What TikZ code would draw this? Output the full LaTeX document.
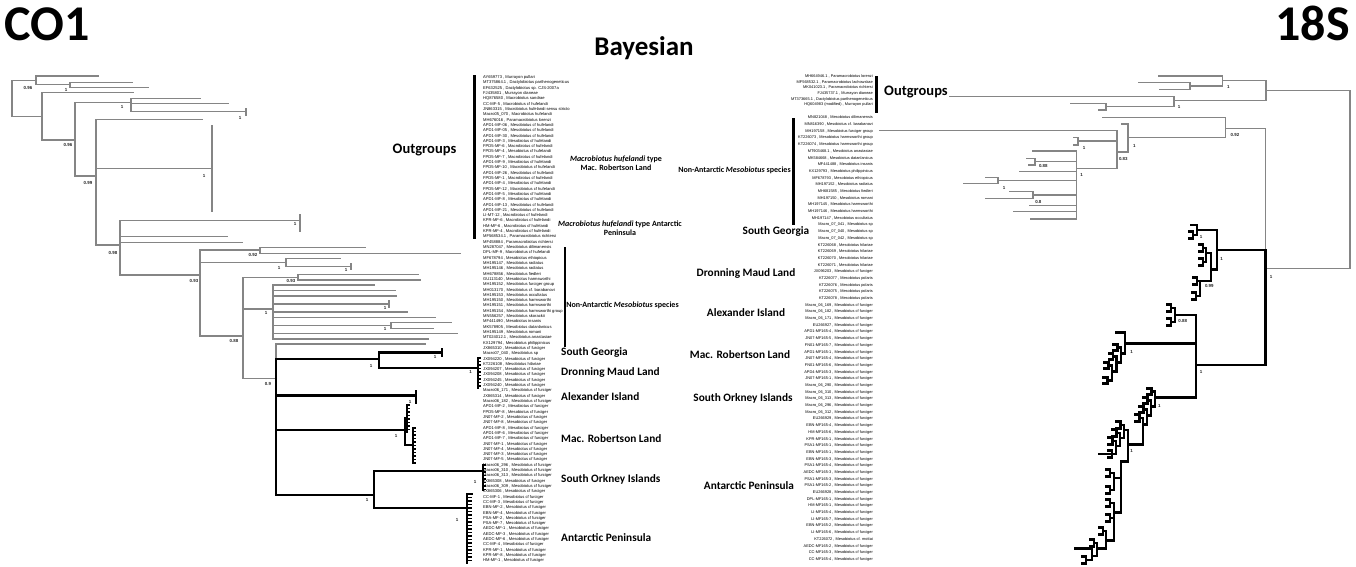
\documentclass[tikz,border=0pt]{standalone}
\usepackage{fontspec}
\newfontfamily\carl{Carlito}
\newfontfamily\libs{Liberation Sans}
\definecolor{tg}{HTML}{858585}
\tikzset{
  gbr/.style={draw=tg, line width=1.3pt, line cap=rect},
  bbr/.style={draw=black, line width=2.8pt, line cap=rect},
  bar/.style={draw=black, line width=2.7pt},
  sv/.style={font=\libs\bfseries\fontsize{4.4}{5}\selectfont, inner sep=0pt, text=black!85},
  bigt/.style={font=\carl\bfseries\fontsize{50}{56}\selectfont, inner sep=0pt},
  bayt/.style={font=\carl\bfseries\fontsize{27}{32}\selectfont, inner sep=0pt},
  reg/.style={font=\carl\bfseries\fontsize{11.3}{13}\selectfont, inner sep=0pt},
  grp/.style={font=\carl\bfseries\fontsize{8}{9.2}\selectfont, inner sep=0pt, align=center},
  outg/.style={font=\carl\bfseries\fontsize{14.5}{16}\selectfont, inner sep=0pt},
  taxL/.style={font=\libs\fontsize{4.1}{5.31}\selectfont, inner sep=0pt, anchor=north west},
  taxRa/.style={font=\libs\fontsize{3.9}{5.6}\selectfont, inner sep=0pt, anchor=north east},
  taxRb/.style={font=\libs\fontsize{3.9}{6.69}\selectfont, inner sep=0pt, anchor=north east},
}
\newcounter{svc}
\newcommand\svl[3]{\stepcounter{svc}\node[sv] (sv\arabic{svc}) at (#1,#2) {#3};}
\newcommand\mcf{ , Mesobiotus cf furciger}
\newcommand\mhf{ , Macrobiotus cf hufelandi}
\newcommand\mef{ , Mesobiotus cf hufelandi}
\newcommand\brk[2]{\draw[bbr] (#1-4,#2-3.2) -- (#1,#2-3.2) -- (#1,#2+3.2) -- (#1-4,#2+3.2);}
\newcommand\blobv[4]{%
  \draw[bbr] (#1,#2) -- (#1,#3);
  \pgfmathsetmacro\yst{#2+3.5}%
  \foreach \yy in {#2,\yst,...,#3} \draw[black, line width=1.5pt] (#1,\yy) -- ++(#4,0);
}
\newcommand\stair[7]{%
  \foreach \k in {1,...,#3}{%
    \pgfmathsetmacro\xk{#1-(\k-1)*#4}%
    \pgfmathsetmacro\ym{#2+(\k-1)*#5}%
    \pgfmathsetmacro\yt{\ym-#6}%
    \pgfmathsetmacro\yb{\ym+#5}%
    \pgfmathsetmacro\xn{\xk-#4}%
    \pgfmathsetmacro\xc{\xk-3.5}%
    \draw[bbr] (\xk,\yt) -- (\xk,\yb) -- (\xn,\yb);
    \draw[bbr] (\xk,\yt) -- (\xc,\yt);
    \brk{\xc}{\yt}%
    \ifnum\k=#3 \ifnum#7=1 \brk{\xn}{\yb}\fi\fi
  }%
}
\begin{document}
\begin{tikzpicture}[x=1pt,y=-1pt]
\useasboundingbox (0,0) rectangle (1356,566);
\fill[white] (0,0) rectangle (1356,566);

% ---------- titles
\node[bigt, anchor=base west] (co1) at (4,40) {CO1};
\node[bigt, anchor=base east] (s18) at (1350,40) {18S};
\node[bayt, anchor=base] (bay) at (644,55) {Bayesian};

% ---------- CO1 tree (gray)
\draw[gbr] (12,80.7)--(12,116.7);
\draw[gbr] (12,80.7)--(36,80.7);
\draw[gbr] (36,76)--(36,84.7);
\draw[gbr] (36,76)--(98,76);
\draw[gbr] (36,84.7)--(70,84.7);
\draw[gbr] (70,82.3)--(70,87.3);
\draw[gbr] (70,82.3)--(132,82.3);
\draw[gbr] (70,87.3)--(148,87.3);
\draw[gbr] (12,116.7)--(42,116.7);
\draw[gbr] (42,92.7)--(42,140);
\draw[gbr] (42,92.7)--(133,92.7);
\draw[gbr] (42,140)--(75,140);
\draw[gbr] (75,102.7)--(75,176);
\draw[gbr] (75,102.7)--(131,102.7);
\draw[gbr] (131,98.3)--(131,111.7);
\draw[gbr] (131,98.3)--(200,98.3);
\draw[gbr] (131,103.7)--(228,103.7);
\draw[gbr] (131,111.7)--(246,111.7);
\draw[gbr] (246,109)--(246,115);
\draw[gbr] (75,176)--(96,176);
\draw[gbr] (96,119.3)--(96,245);
\draw[gbr] (96,119.3)--(202,119.3);
\draw[gbr] (96,168.7)--(212,168.7);
\draw[draw=tg, line width=1.7pt] (212,125)--(212,211.7);
\draw[gbr] (96,245)--(120,245);
\draw[gbr] (120,220.7)--(120,275);
\draw[gbr] (120,220.7)--(300,220.7);
\draw[gbr] (300,215)--(300,231.7);
\draw[gbr] (120,236.7)--(227,236.7);
\draw[gbr] (120,242.5)--(242,242.5);
\draw[gbr] (120,275)--(200,275);
\draw[gbr] (200,250)--(200,336);
\draw[gbr] (200,250)--(260,250);
\draw[gbr] (260,247.3)--(260,253.3);
\draw[gbr] (260,247.3)--(365,247.3);
\draw[gbr] (260,253.3)--(460,253.3);
\draw[gbr] (200,262.7)--(286,262.7);
\draw[gbr] (286,258.7)--(286,266.7);
\draw[gbr] (286,258.7)--(340,258.7);
\draw[gbr] (286,266.7)--(351,266.7);
\draw[gbr] (351,263.5)--(351,269.5);
\draw[gbr] (200,336)--(243,336);
\draw[gbr] (243,277.3)--(243,378.7);
\draw[gbr] (243,277.3)--(298,277.3);
\draw[gbr] (298,274.7)--(298,280);
\draw[gbr] (298,274.7)--(418,274.7);
\draw[gbr] (298,280)--(420,280);
\draw[gbr] (243,309)--(273,309);
\draw[gbr] (273,285)--(273,339);
\draw[gbr] (273,285)--(374,285);
\draw[gbr] (273,290.7)--(395,290.7);
\draw[gbr] (273,296)--(396,296);
\draw[gbr] (273,304)--(389,304);
\draw[gbr] (389,301)--(389,307);
\draw[gbr] (273,312)--(407,312);
\draw[gbr] (273,317.3)--(435,317.3);
\draw[gbr] (273,325.7)--(391,325.7);
\draw[gbr] (391,322.7)--(391,328.3);
\draw[gbr] (391,322.7)--(451,322.7);
\draw[gbr] (391,328.3)--(433,328.3);
\draw[gbr] (273,333.3)--(457,333.3);
\draw[gbr] (273,339)--(428,339);
\draw[gbr] (243,378.7)--(276,378.7);
\draw[gbr] (276,344)--(276,359);
\draw[gbr] (276,344)--(425,344);
% CO1 black clade
\draw[bbr] (276,359)--(276,495);
\draw[bbr] (276,359)--(379,359);
\draw[bbr] (379,352.3)--(379,368);
\draw[bbr] (379,352.3)--(442,352.3);
\draw[bbr] (442,349)--(442,356);
\draw[bbr] (379,368)--(477,368);
\blobv{478}{358}{388}{3}
\draw[bbr] (276,395.7)--(416,395.7);
\draw[bbr] (416,391)--(416,403);
\draw[bbr] (276,430)--(405,430);
\draw[bbr] (405,418)--(405,445);
\blobv{407}{405}{432}{3}
\draw[bbr] (405,445)--(413,445);
\blobv{413}{428}{463}{3}
\draw[bbr] (276,495)--(374,495);
\draw[bbr] (374,471)--(374,508);
\draw[bbr] (374,471)--(483,471);
\blobv{483}{465}{490}{2.5}
\draw[bbr] (374,508)--(466,508);
\draw[bbr] (467,494)--(472,494);
\blobv{467}{494}{563}{5}

% CO1 support values
\svl{28}{88}{0.96}
\svl{66}{89.5}{1}
\svl{68}{145}{0.96}
\svl{122}{107}{1}
\svl{240}{118}{1}
\svl{88}{183}{0.99}
\svl{204}{176}{1}
\svl{113}{253}{0.98}
\svl{295}{224}{1}
\svl{253}{255}{0.92}
\svl{194}{281}{0.93}
\svl{279}{268}{1}
\svl{346}{270}{1}
\svl{291}{281}{0.93}
\svl{266}{313}{1}
\svl{385}{308}{1}
\svl{385}{329}{1}
\svl{234}{341}{0.88}
\svl{268}{384}{0.9}
\svl{371}{366}{1}
\svl{435}{357}{1}
\svl{470.7}{371.7}{1}
\svl{410}{402}{1}
\svl{396}{436}{1}
\svl{367}{500}{1}
\svl{475}{482}{1}
\svl{457}{520}{1}

% CO1 bars and labels
\draw[bar] (474.5,75)--(474.5,239);
\draw[bar] (565,247)--(565,347);
\node[outg] (ogL) at (424.5,150) {Outgroups};
\node[grp] (mhL1) at (616,163.5) {\textit{Macrobiotus hufelandi} type\\Mac. Robertson Land};
\node[grp] (mhL2) at (620,228) {\textit{Macrobiotus hufelandi} type Antarctic\\Peninsula};
\node[grp] (naL) at (622.5,305) {Non-Antarctic \textit{Mesobiotus} species};
\node[reg, anchor=west] (sgL) at (561,352) {South Georgia};
\node[reg, anchor=west] (dmL) at (561,372) {Dronning Maud Land};
\node[reg, anchor=west] (aiL) at (561,397) {Alexander Island};
\node[reg, anchor=west] (mrL) at (561,439) {Mac. Robertson Land};
\node[reg, anchor=west] (soL) at (561,479) {South Orkney Islands};
\node[reg, anchor=west] (apL) at (561,538) {Antarctic Peninsula};

% CO1 taxon list
\node[taxL] (listL) at (483,74.7) {\begin{tabular}{@{}l@{}}AY659773 , Murrayon pullari\\
MT375864.1 , Dactylobiotus parthenogeneticus\\
EF632525 , Dactylobiotus sp. CJS-2007a\\
FJ435801 , Murrayon dianeae\\
HQ876580 , Macrobiotus sandrae\\
CC-MF-5\mhf\\
JN863315 , Macrobiotus hufelandi sensu stricto\\
Macro05\_070 , Macrobiotus hufelandi\\
MH676016 , Paramacrobiotus lorenzi\\
APD1-MF-06\mef\\
APD1-MF-05\mef\\
APD1-MF-30\mef\\
APD1-MF-3\mef\\
FPD5-MF-6\mhf\\
FPD5-MF-4\mef\\
FPD5-MF-7\mhf\\
APD1-MF-9\mef\\
FPD5-MF-10\mhf\\
APD1-MF-26\mef\\
FPD5-MF-1\mhf\\
APD1-MF-4\mef\\
FPD5-MF-12\mhf\\
APD1-MF-5\mef\\
APD1-MF-8\mef\\
APD1-MF-13\mef\\
APD1-MF-21\mef\\
LI-MT-12\mhf\\
KPR-MF-6\mhf\\
HM-MF-6\mhf\\
KPR-MF-4\mhf\\
MF568534.1 , Paramacrobiotus richtersi\\
MF458884 , Paramacrobiotus richtersi\\
MN287047 , Mesobiotus dilimanensis\\
DPL-MF-9\mhf\\
MF678794 , Mesobiotus ethiopicus\\
MH195147 , Mesobiotus radiatus\\
MH195146 , Mesobiotus radiatus\\
MH678856 , Mesobiotus fiedleri\\
GU113140 , Mesobiotus harmsworthi\\
MH195152 , Mesobiotus furciger group\\
MH013170 , Mesobiotus cf. barabanovi\\
MH195153 , Mesobiotus occultatus\\
MH195150 , Mesobiotus harmsworthi\\
MH195151 , Mesobiotus harmsworthi\\
MH195154 , Mesobiotus harmsworthi group\\
MN556257 , Mesobiotus skorackii\\
MF441490 , Mesobiotus insanis\\
MK578905 , Mesobiotus datanlanicus\\
MH195149 , Mesobiotus romani\\
MT024012.1 , Mesobiotus anastasiae\\
KX129794 , Mesobiotus philippinicus\\
JX865310\mcf\\
Macro07\_040 , Mesobiotus sp\\
JX094220\mcf\\
KT226108 , Mesobiotus hilariae\\
JX094207\mcf\\
JX094208\mcf\\
JX094245\mcf\\
JX094240\mcf\\
Macro06\_171\mcf\\
JX865314\mcf\\
Macro06\_182\mcf\\
APD1-MF-2\mcf\\
FPD5-MF-8\mcf\\
JN07-MF-2\mcf\\
JN07-MF-8\mcf\\
APD1-MF-8\mcf\\
APD1-MF-6\mcf\\
APD1-MF-7\mcf\\
JN07-MF-1\mcf\\
JN07-MF-4\mcf\\
JN07-MF-3\mcf\\
JN07-MF-5\mcf\\
Macro06\_296\mcf\\
Macro06\_310\mcf\\
Macro06\_313\mcf\\
JX865308\mcf\\
Macro06\_309\mcf\\
JX865306\mcf\\
CC-MF-1\mcf\\
CC-MF-3\mcf\\
EBN-MF-2\mcf\\
EBN-MF-4\mcf\\
PSA-MF-2\mcf\\
PSA-MF-7\mcf\\
AEDC-MF-1\mcf\\
AEDC-MF-3\mcf\\
AEDC-MF-6\mcf\\
CC-MF-4\mcf\\
KPR-MF-1\mcf\\
KPR-MF-8\mcf\\
HM-MF-1\mcf\end{tabular}};

% ---------- 18S labels and lists
\draw[bar] (876.7,76)--(876.7,112.7);
\draw[bar] (793.3,118.3)--(793.3,225);
\node[outg, anchor=west] (ogR) at (884,92) {Outgroups};
\node[grp] (naR) at (734.5,170) {Non-Antarctic \textit{Mesobiotus} species};
\node[reg] (sgR) at (776,231) {South Georgia};
\node[reg] (dmR) at (746,273) {Dronning Maud Land};
\node[reg] (aiR) at (746,313) {Alexander Island};
\node[reg] (mrR) at (740,355) {Mac. Robertson Land};
\node[reg] (soR) at (743,398) {South Orkney Islands};
\node[reg] (apR) at (749,486) {Antarctic Peninsula};

\node[taxRa] (listRa) at (873,73.5) {\begin{tabular}{@{}r@{}}MH664946.1 , Paramacrobiotus lorenzi\\
MF568532.1 , Paramacrobiotus lachowskae\\
MK041023.1 , Paramacrobiotus richtersi\\
FJ435737.1 , Murrayon dianeae\\
MT373665.1 , Dactylobiotus parthenogeneticus\\
HQ604983 (modified) , Murrayon pullari\end{tabular}};
\node[taxRb] (listRb) at (873,114) {\begin{tabular}{@{}r@{}}MN821048 , Mesobiotus dilimanensis\\
MN816390 , Mesobiotus cf. barabanovi\\
MH197158 , Mesobiotus furciger group\\
KT226073 , Mesobiotus harmsworthi group\\
KT226074 , Mesobiotus harmsworthi group\\
MT903468.1 , Mesobiotus anastasiae\\
MK584668 , Mesobiotus datanlanicus\\
MF441488 , Mesobiotus insanis\\
KX129793 , Mesobiotus philippinicus\\
MF678793 , Mesobiotus ethiopicus\\
MH197152 , Mesobiotus radiatus\\
MH681585 , Mesobiotus fiedleri\\
MH197150 , Mesobiotus romani\\
MH197145 , Mesobiotus harmsworthi\\
MH197146 , Mesobiotus harmsworthi\\
MH197147 , Mesobiotus occultatus\\
Macro\_07\_041 , Mesobiotus sp\\
Macro\_07\_040 , Mesobiotus sp\\
Macro\_07\_042 , Mesobiotus sp\\
KT226068 , Mesobiotus hilariae\\
KT226069 , Mesobiotus hilariae\\
KT226070 , Mesobiotus hilariae\\
KT226071 , Mesobiotus hilariae\\
JX096203\mcf\\
KT226077 , Mesobiotus polaris\\
KT226076 , Mesobiotus polaris\\
KT226075 , Mesobiotus polaris\\
KT226078 , Mesobiotus polaris\\
Macro\_06\_169\mcf\\
Macro\_06\_182\mcf\\
Macro\_06\_171\mcf\\
EU266927\mcf\\
APD1-MF165-4\mcf\\
JN07-MF165-5\mcf\\
FN01-MF165-7\mcf\\
APD1-MF165-1\mcf\\
JN07-MF165-4\mcf\\
FN01-MF165-6\mcf\\
APD4-MF165-3\mcf\\
JN07-MF165-1\mcf\\
Macro\_06\_290\mcf\\
Macro\_06\_310\mcf\\
Macro\_06\_313\mcf\\
Macro\_06\_296\mcf\\
Macro\_06\_312\mcf\\
EU266929\mcf\\
EBN-MF165-4\mcf\\
HM-MF165-6\mcf\\
KPR-MF165-1\mcf\\
PSA1-MF165-1\mcf\\
EBN-MF165-1\mcf\\
EBN-MF165-3\mcf\\
PSA1-MF165-4\mcf\\
AEDC-MF165-3\mcf\\
PSA1-MF165-3\mcf\\
PSA1-MF165-2\mcf\\
EU266928\mcf\\
DPL-MF165-1\mcf\\
HM-MF165-1\mcf\\
LI-MF165-4\mcf\\
LI-MF165-7\mcf\\
EBN-MF165-2\mcf\\
LI-MF165-6\mcf\\
KT226072 , Mesobiotus cf. mottai\\
AEDC-MF165-2\mcf\\
CC-MF165-3\mcf\\
CC-MF165-4\mcf\end{tabular}};

% ---------- 18S tree (gray)
\draw[gbr] (1350,90.7)--(1350,268.3);
\draw[gbr] (1350,90.7)--(1266,90.7);
\draw[gbr] (1266,80.7)--(1266,100.7);
\draw[gbr] (1266,80.7)--(1222.7,80.7);
\draw[gbr] (1222.7,76)--(1222.7,86);
\draw[gbr] (1222.7,76)--(1159,76);
\draw[gbr] (1222.7,86)--(1190,86);
\draw[gbr] (1190,82.7)--(1190,89.3);
\draw[gbr] (1190,82.7)--(1139,82.7);
\draw[gbr] (1190,89.3)--(1160,89.3);
\draw[gbr] (1266,100.7)--(1174,100.7);
\draw[gbr] (1174,96.7)--(1174,106.7);
\draw[gbr] (1174,96.7)--(950,96.7);
\draw[gbr] (1174,106.7)--(1106,106.7);
\draw[gbr] (1106,103.3)--(1106,110);
\draw[gbr] (1106,103.3)--(1071,103.3);
\draw[gbr] (1106,110)--(1099,110);
\draw[gbr] (1350,268.3)--(1265.7,268.3);
\draw[gbr] (1265.7,128.3)--(1265.7,250);
\draw[gbr] (1265.7,128.3)--(1225.7,128.3);
\draw[gbr] (1225.7,117.3)--(1225.7,137.7);
\draw[gbr] (1225.7,117.3)--(1103,117.3);
\draw[gbr] (1225.7,137.7)--(1128,137.7);
\draw[gbr] (1128,124)--(1128,152);
\draw[gbr] (1128,124)--(1122,124);
\draw[gbr] (1128,152)--(1117,152);
\draw[gbr] (1117,130.7)--(1117,168.3);
\draw[gbr] (1117,130.7)--(880,130.7);
\draw[gbr] (1117,141)--(1078,141);
\draw[gbr] (1078,137.3)--(1078,145);
\draw[gbr] (1078,137.3)--(1074,137.3);
\draw[gbr] (1078,145)--(1074,145);
\draw[gbr] (1117,168.3)--(1076.7,168.3);
\draw[gbr] (1076.7,151)--(1076.7,219);
\draw[gbr] (1076.7,151)--(1033,151);
\draw[gbr] (1076.7,161.7)--(1035,161.7);
\draw[gbr] (1035,158.3)--(1035,165);
\draw[gbr] (1035,158.3)--(1027,158.3);
\draw[gbr] (1035,165)--(1029,165);
\draw[gbr] (1076.7,171.7)--(1020,171.7);
\draw[gbr] (1076.7,180.7)--(998,180.7);
\draw[gbr] (998,177.7)--(998,183.3);
\draw[gbr] (998,177.7)--(986,177.7);
\draw[gbr] (998,183.3)--(964,183.3);
\draw[gbr] (1076.7,195)--(1033,195);
\draw[gbr] (1033,191.7)--(1033,198.3);
\draw[gbr] (1033,191.7)--(1010,191.7);
\draw[gbr] (1033,198.3)--(986,198.3);
\draw[gbr] (1076.7,205.7)--(1030,205.7);
\draw[gbr] (1076.7,211.7)--(1014,211.7);
\draw[gbr] (1076.7,219)--(1031,219);

% 18S black clade
\draw[bbr] (1265.7,250)--(1265.7,365);
\draw[bbr] (1265.7,250)--(1217,250);
\draw[bbr] (1217,230)--(1217,269.3);
\draw[bbr] (1217,230)--(1197,230);
\draw[bbr] (1197,225)--(1197,235);
\draw[bbr] (1197,225)--(1191,225);
\draw[bbr] (1197,235)--(1193,235); \brk{1193}{235}
\draw[bbr] (1217,269.3)--(1211,269.3);
\draw[bbr] (1211,253)--(1211,281);
\draw[bbr] (1211,253)--(1206,253);
\draw[bbr] (1206,248)--(1206,262);
\draw[bbr] (1206,248)--(1203,248); \brk{1203}{248}
\draw[bbr] (1206,262)--(1203,262); \brk{1203}{262}
\draw[bbr] (1211,281)--(1200,281);
\draw[bbr] (1200,281)--(1200,296);
\draw[bbr] (1200,281)--(1197,281); \brk{1197}{281}
\draw[bbr] (1200,296)--(1196,296); \brk{1196}{296}
\draw[bbr] (1265.7,365)--(1196,365);
\draw[bbr] (1196,315)--(1196,397.3);
\draw[bbr] (1196,315)--(1175,315);
\draw[bbr] (1175,308)--(1175,322);
\draw[bbr] (1175,308)--(1171,308); \brk{1171}{308}
\draw[bbr] (1175,322)--(1171,322); \brk{1171}{322}
\draw[bbr] (1196,343.3)--(1125,343.3);
\draw[bbr] (1125,332.3)--(1125,353.3);
\draw[bbr] (1125,332.3)--(1116,332.3);
\draw[bbr] (1125,353.3)--(1121,353.3);
\stair{1121}{353.3}{3}{4.5}{9}{6}{1}
\draw[bbr] (1196,397.3)--(1155,397.3);
\stair{1155}{397.3}{3}{4}{9}{6}{0}
\draw[bbr] (1143,418)--(1143,444.3);
\draw[bbr] (1143,418)--(1139.5,418); \brk{1139.5}{418}
\draw[bbr] (1143,444.3)--(1128,444.3);
\draw[bbr] (1128,430)--(1128,461.7);
\draw[bbr] (1128,430)--(1124,430);
\stair{1124}{430}{3}{4}{8}{5}{1}
\draw[bbr] (1112,454)--(1099,454);
\draw[bbr] (1128,461.7)--(1121,461.7);
\draw[bbr] (1121,461.7)--(1121,512.3);
\draw[bbr] (1121,478)--(1114,478);
\draw[bbr] (1114,473)--(1114,490);
\draw[bbr] (1114,473)--(1110,473); \brk{1110}{473}
\draw[bbr] (1114,490)--(1110,490); \brk{1110}{490}
\draw[bbr] (1121,512.3)--(1114,512.3);
\draw[bbr] (1114,503)--(1114,540.7);
\draw[bbr] (1114,503)--(1110,503); \brk{1110}{503}
\draw[bbr] (1114,518)--(1110,518); \brk{1110}{518}
\draw[bbr] (1114,540.7)--(1106,540.7);
\draw[bbr] (1106,531)--(1106,548.3);
\draw[bbr] (1106,531)--(1103,531); \brk{1103}{531}
\draw[bbr] (1106,548.3)--(1097,548.3);
\draw[bbr] (1097,543)--(1097,556);
\draw[bbr] (1097,543)--(1094,543); \brk{1094}{543}
\draw[bbr] (1097,556)--(1092,556);
\draw[bbr] (1092,548.3)--(1092,560);
\draw[bbr] (1092,548.3)--(1075,548.3);
\draw[bbr] (1092,560)--(1086,560); \brk{1086}{560}

% 18S support values
\svl{1228.3}{87.3}{1}
\svl{1179}{107.3}{1}
\svl{1235}{135}{0.92}
\svl{1134.3}{145.7}{1}
\svl{1084}{148.3}{1}
\svl{1123.3}{159.3}{0.83}
\svl{1043.3}{165.7}{0.88}
\svl{1081.7}{175}{1}
\svl{1004}{187.7}{1}
\svl{1038.3}{201.7}{0.8}
\svl{1271}{276.7}{1}
\svl{1201}{237.3}{1}
\svl{1221.7}{259}{1}
\svl{1209.3}{285.7}{0.99}
\svl{1182.7}{320.7}{0.88}
\svl{1131.7}{351.7}{1}
\svl{1201}{372.3}{1}
\svl{1159.3}{406}{1}
\svl{1131.7}{451}{1}
\end{tikzpicture}
\end{document}
